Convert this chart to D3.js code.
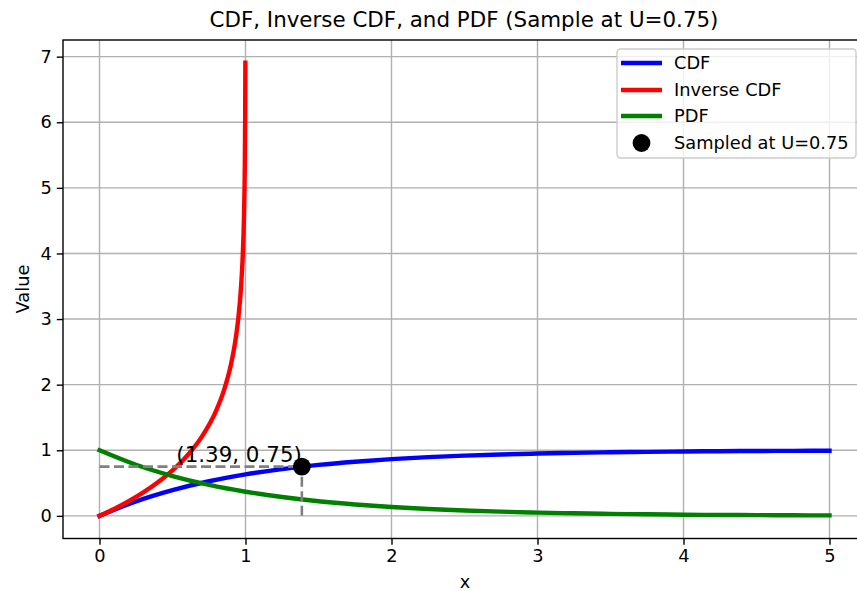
<!DOCTYPE html>
<html><head><meta charset="utf-8">
<script src="https://cdn.jsdelivr.net/npm/d3@7"></script>
<style>body{margin:0;background:#fff}svg{display:block}text{font-family:"DejaVu Sans",sans-serif}</style>
</head><body><svg id="c" width="857" height="591"></svg>
<script>
// Data
const xGrid = [0,0.25,0.5,0.75,1,1.25,1.5,1.75,2,2.25,2.5,2.75,3,3.25,3.5,3.75,4,4.25,4.5,4.75,5];
const cdfValues = [0,0.221,0.393,0.528,0.632,0.713,0.777,0.826,0.865,0.895,0.918,0.936,0.950,0.961,0.970,0.976,0.982,0.986,0.989,0.991,0.993];
const pdfValues = [1,0.779,0.607,0.472,0.368,0.287,0.223,0.174,0.135,0.105,0.082,0.064,0.050,0.039,0.030,0.024,0.018,0.014,0.011,0.009,0.007];
const uGrid = [0,0.1,0.2,0.3,0.4,0.5,0.6,0.7,0.8,0.85,0.9,0.93,0.95,0.97,0.98,0.99,0.995,0.998,0.999];
const invValues = [0,0.105,0.223,0.357,0.511,0.693,0.916,1.204,1.609,1.897,2.303,2.659,2.996,3.507,3.912,4.605,5.298,6.215,6.908];
const sampleU = 0.75, sampleX = 1.386;
const xTicks = [0,1,2,3,4,5];
const yTicks = [0,1,2,3,4,5,6,7];
const title = "CDF, Inverse CDF, and PDF (Sample at U=0.75)";
const legendLabels = ["CDF","Inverse CDF","PDF","Sampled at U=0.75"];
const colors = {cdf:"#0000ff", inv:"#ff0000", pdf:"#008000"};

const svg = d3.select("#c");
const L = 63, R = 866, T = 40, B = 538.5;
const x = d3.scaleLinear().domain([-0.25,5.25]).range([L,R]);
const y = d3.scaleLinear().domain([-0.345,7.254]).range([B,T]);

// grid
const g = svg.append("g");
xTicks.forEach(t=>g.append("line").attr("x1",x(t)).attr("x2",x(t)).attr("y1",T).attr("y2",B).attr("stroke","#b0b0b0").attr("stroke-width",1.4));
yTicks.forEach(t=>g.append("line").attr("x1",L).attr("x2",R).attr("y1",y(t)).attr("y2",y(t)).attr("stroke","#b0b0b0").attr("stroke-width",1.4));

svg.append("defs").append("clipPath").attr("id","cp").append("rect").attr("x",L).attr("y",T).attr("width",R-L).attr("height",B-T);
const plot = svg.append("g").attr("clip-path","url(#cp)");
const line = d3.line().x(d=>x(d[0])).y(d=>y(d[1])).curve(d3.curveMonotoneX);
[[xGrid,cdfValues,colors.cdf],[uGrid,invValues,colors.inv],[xGrid,pdfValues,colors.pdf]].forEach(([xs,ys,c])=>{
  plot.append("path").datum(xs.map((v,i)=>[v,ys[i]])).attr("d",line).attr("fill","none").attr("stroke",c).attr("stroke-width",4.4).attr("stroke-linecap","square");
});
// dashed guides
plot.append("line").attr("x1",x(0)).attr("x2",x(sampleX)).attr("y1",y(sampleU)).attr("y2",y(sampleU)).attr("stroke","#808080").attr("stroke-width",2.6).attr("stroke-dasharray","10,4.5");
plot.append("line").attr("x1",x(sampleX)).attr("x2",x(sampleX)).attr("y1",y(0)).attr("y2",y(sampleU)).attr("stroke","#808080").attr("stroke-width",2.6).attr("stroke-dasharray","10,4.5");
plot.append("circle").attr("cx",x(sampleX)).attr("cy",y(sampleU)).attr("r",8.9).attr("fill","#000");
svg.append("text").attr("x",x(sampleX)).attr("y",y(sampleU)-4.5).attr("text-anchor","end").attr("font-size",21.4).attr("fill","#000").text(`(${sampleX.toFixed(2)}, ${sampleU.toFixed(2)})`);

// axes
const xa = svg.append("g").attr("transform",`translate(0,${B})`).call(d3.axisBottom(x).tickValues(xTicks).tickSize(6.2).tickPadding(5).tickFormat(d3.format("d")));
const ya = svg.append("g").attr("transform",`translate(${L},0)`).call(d3.axisLeft(y).tickValues(yTicks).tickSize(6.2).tickPadding(5).tickFormat(d3.format("d")));
[xa,ya].forEach(a=>{a.select(".domain").remove();a.selectAll("line").attr("stroke","#000").attr("stroke-width",1.4);a.selectAll("text").attr("font-size",17.8).attr("font-family","DejaVu Sans").attr("fill","#000");});
svg.append("rect").attr("x",L).attr("y",T).attr("width",R-L).attr("height",B-T).attr("fill","none").attr("stroke","#000").attr("stroke-width",1.4);

svg.append("text").attr("x",464).attr("y",27).attr("text-anchor","middle").attr("font-size",21.4).text(title);
svg.append("text").attr("x",465).attr("y",587.5).attr("text-anchor","middle").attr("font-size",17.8).text("x");
svg.append("text").attr("transform","translate(29,289) rotate(-90)").attr("text-anchor","middle").attr("font-size",17.8).text("Value");

// legend
const lg = svg.append("g");
lg.append("rect").attr("x",617).attr("y",49).attr("width",239).attr("height",109).attr("rx",3.5).attr("fill","#fff").attr("fill-opacity",0.8).attr("stroke","#cccccc").attr("stroke-width",1.4);
const lc=[colors.cdf,colors.inv,colors.pdf];
const ly=[63,90,116,143];
legendLabels.forEach((lab,i)=>{
  if(i<3) lg.append("line").attr("x1",621).attr("x2",662).attr("y1",ly[i]).attr("y2",ly[i]).attr("stroke",lc[i]).attr("stroke-width",4.4);
  else lg.append("circle").attr("cx",641.5).attr("cy",ly[i]).attr("r",8.9).attr("fill","#000");
  lg.append("text").attr("x",674).attr("y",ly[i]).attr("dy","0.35em").attr("font-size",17.8).text(lab);
});
</script></body></html>
